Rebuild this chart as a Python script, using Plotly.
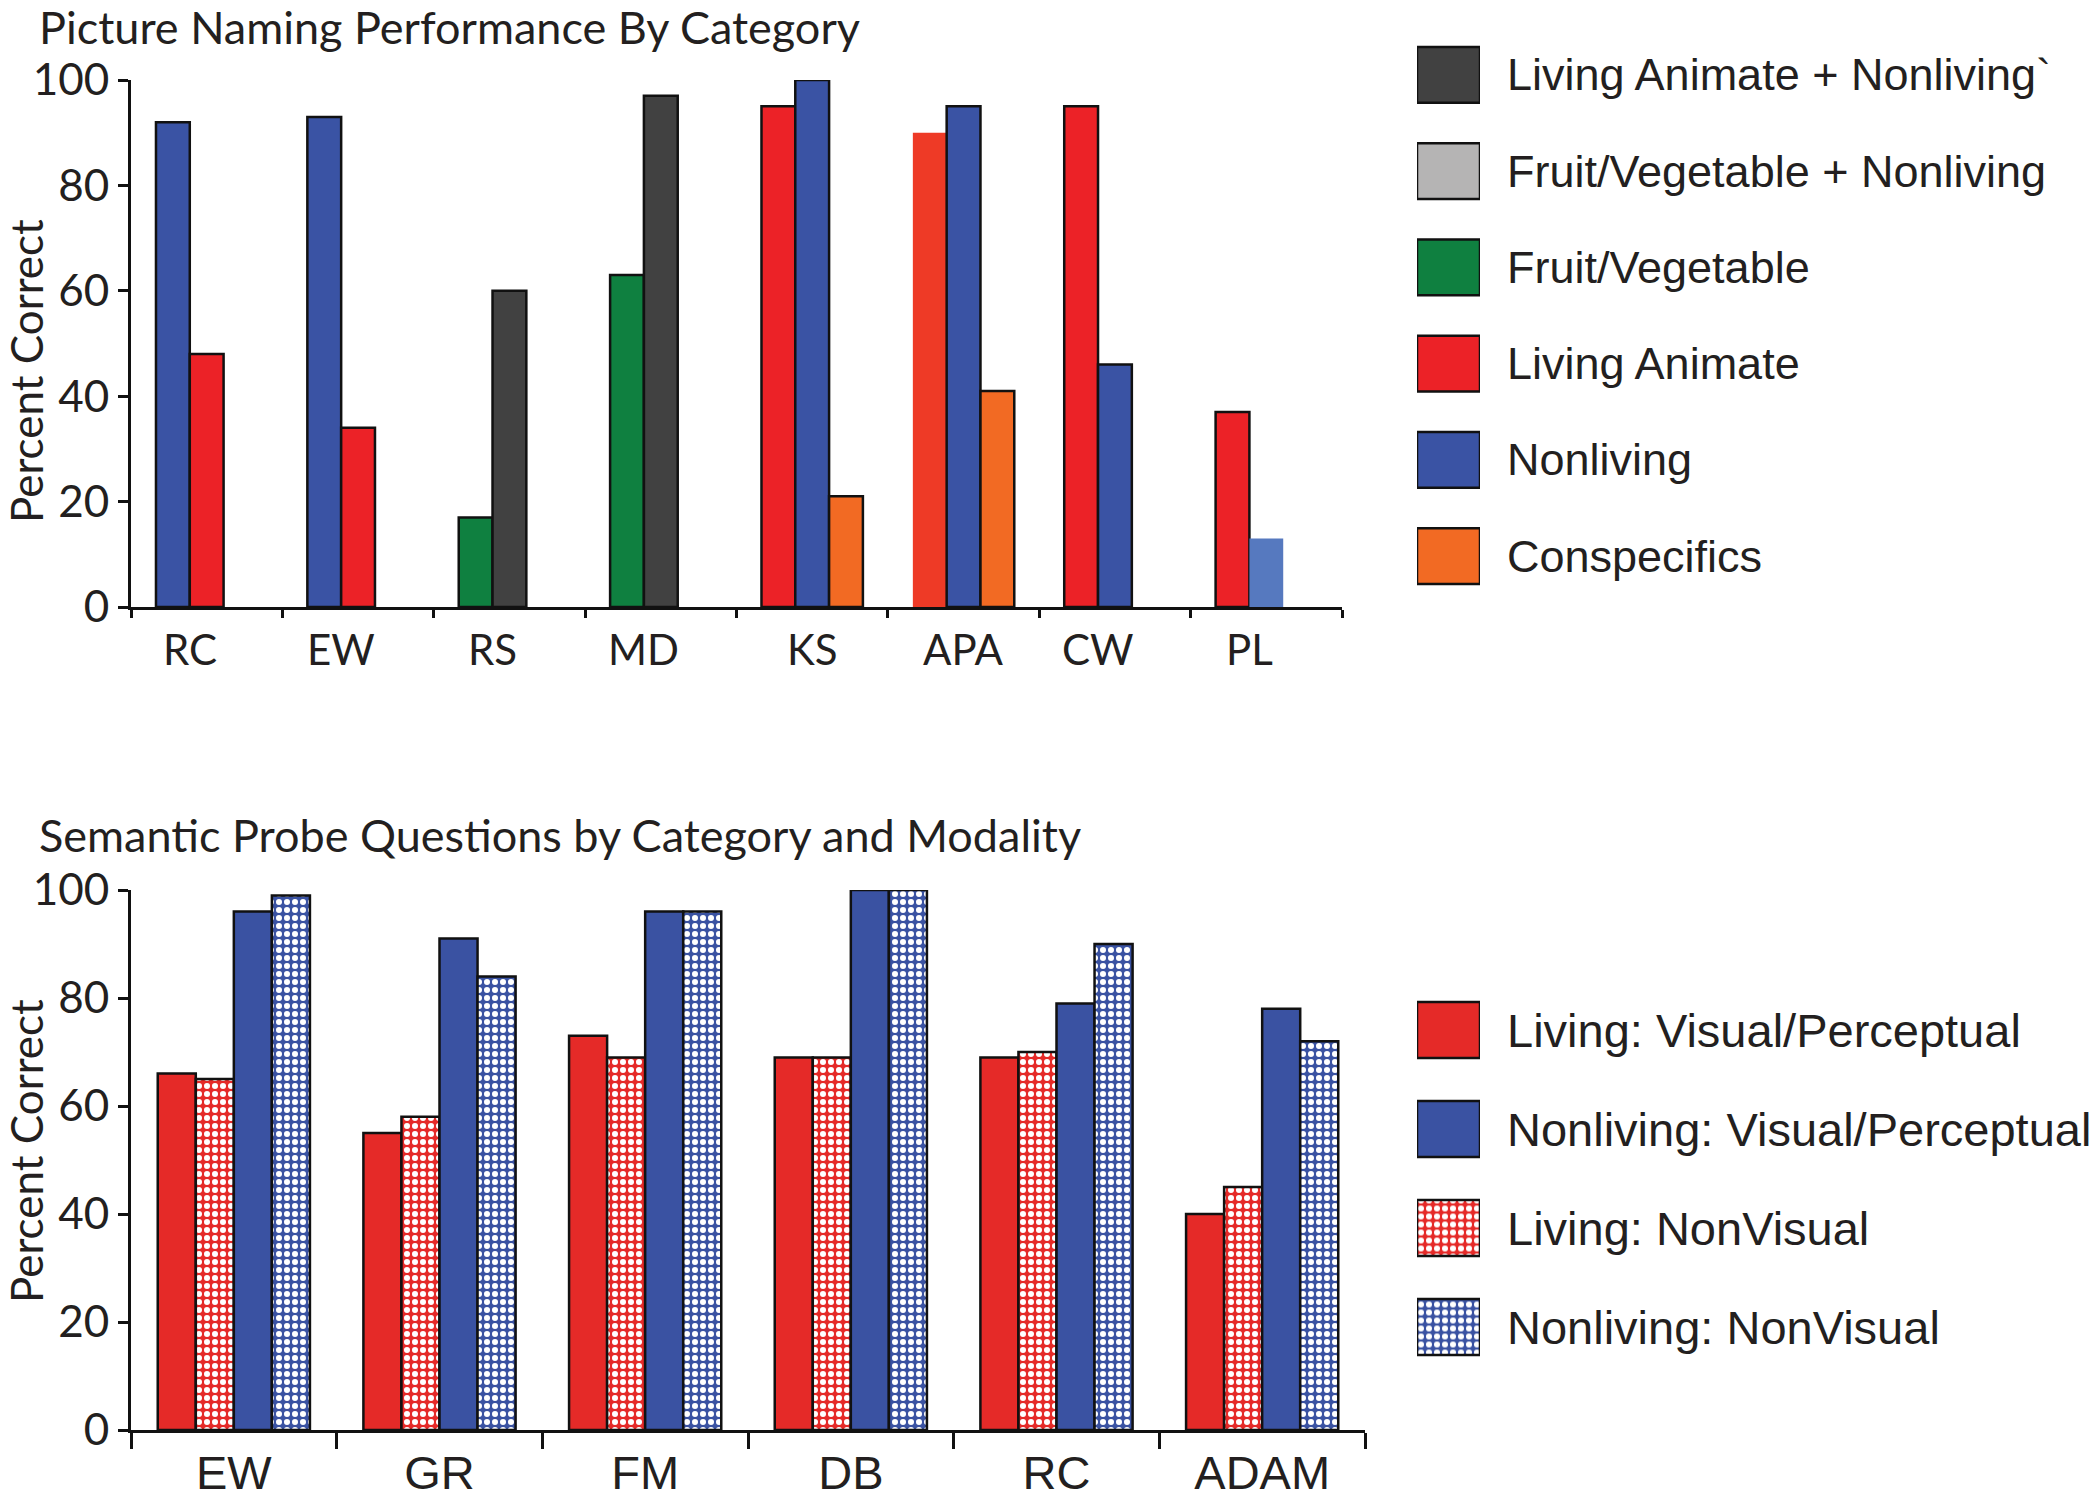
import plotly.graph_objects as go

W, H = 2100, 1501

# ---------------- data: picture naming (top) ----------------
naming_categories = ["RC", "EW", "RS", "MD", "KS", "APA", "CW", "PL"]
living_animate_plus_nonliving = [None, None, 60, 97, None, None, None, None]
fruitveg_plus_nonliving = [None, None, None, None, None, None, None, None]
fruit_vegetable = [None, None, 17, 63, None, None, None, None]
living_animate = [48, 34, None, None, 95, 90, 95, 37]
nonliving = [92, 93, None, None, 100, 95, 46, 13]
conspecifics = [None, None, None, None, 21, 41, None, None]

naming_labels = ["Living Animate + Nonliving`", "Fruit/Vegetable + Nonliving",
                 "Fruit/Vegetable", "Living Animate", "Nonliving", "Conspecifics"]

# ---------------- data: semantic probe (bottom) ----------------
probe_categories = ["EW", "GR", "FM", "DB", "RC", "ADAM"]
living_visual = [66, 55, 73, 69, 69, 40]
living_nonvisual = [65, 58, 69, 69, 70, 45]
nonliving_visual = [96, 91, 96, 100, 79, 78]
nonliving_nonvisual = [99, 84, 96, 100, 90, 72]

probe_labels = ["Living: Visual/Perceptual", "Nonliving: Visual/Perceptual",
                "Living: NonVisual", "Nonliving: NonVisual"]

y_ticks = [0, 20, 40, 60, 80, 100]

# ---------------- styles ----------------
INK = "#231f20"
MYRIAD = "Lato, 'Open Sans', sans-serif"
HELV = "'Liberation Sans', Arial, sans-serif"
C_DGRAY, C_LGRAY, C_GREEN = "#414141", "#b5b4b4", "#0f8040"
C_RED, C_BLUE, C_ORANGE = "#ec2227", "#3a53a4", "#f26a23"
C_RED2, C_BLUE2 = "#e52a28", "#3a52a2"

naming_series = {
    "Living Animate + Nonliving`": (living_animate_plus_nonliving, C_DGRAY),
    "Fruit/Vegetable + Nonliving": (fruitveg_plus_nonliving, C_LGRAY),
    "Fruit/Vegetable": (fruit_vegetable, C_GREEN),
    "Living Animate": (living_animate, C_RED),
    "Nonliving": (nonliving, C_BLUE),
    "Conspecifics": (conspecifics, C_ORANGE),
}
# order of the bars inside each group (drawing style)
bar_order = {
    "RC": ["Nonliving", "Living Animate"],
    "EW": ["Nonliving", "Living Animate"],
    "RS": ["Fruit/Vegetable", "Living Animate + Nonliving`"],
    "MD": ["Fruit/Vegetable", "Living Animate + Nonliving`"],
    "KS": ["Living Animate", "Nonliving", "Conspecifics"],
    "APA": ["Living Animate", "Nonliving", "Conspecifics"],
    "CW": ["Living Animate", "Nonliving"],
    "PL": ["Living Animate", "Nonliving"],
}
# bars drawn without outline and with a slightly different tint
special = {("APA", "Living Animate"): "#ee3a26", ("PL", "Nonliving"): "#5679bf"}


def py(p):
    return (H - p) / H


def px(p):
    return p / W


# plot geometry (pixels)
TOP_X0, TOP_X1, TOP_Y100, TOP_Y0 = 131, 1342, 80, 607
BOT_X0, BOT_X1, BOT_Y100, BOT_Y0 = 131, 1365, 890, 1430

fig = go.Figure()

# ---- top chart: three bar slots per category ----
n_slots = 3
group_frac = 0.67
bw = group_frac / n_slots
for k in range(n_slots):
    ys, cols, lws = [], [], []
    for i, cat in enumerate(naming_categories):
        order = bar_order[cat]
        if k < len(order):
            name = order[k]
            vals, col = naming_series[name]
            ys.append(vals[i])
            if (cat, name) in special:
                cols.append(special[(cat, name)])
                lws.append(0)
            else:
                cols.append(col)
                lws.append(2.5)
        else:
            ys.append(None)
            cols.append("white")
            lws.append(0)
    fig.add_trace(go.Bar(
        x=naming_categories, y=ys, width=bw, offset=-group_frac / 2 + k * bw,
        marker=dict(color=cols, line=dict(color="#111111", width=lws)),
        xaxis="x", yaxis="y", showlegend=False, cliponaxis=False,
    ))

# ---- bottom chart ----
probe_series = [
    ("Living: Visual/Perceptual", living_visual, C_RED2, ""),
    ("Living: NonVisual", living_nonvisual, C_RED2, "."),
    ("Nonliving: Visual/Perceptual", nonliving_visual, C_BLUE2, ""),
    ("Nonliving: NonVisual", nonliving_nonvisual, C_BLUE2, "."),
]
pattern_style = {}
for name, vals, col, shp in probe_series:
    if shp:
        pat = dict(shape=shp, fgcolor="white", bgcolor=col, size=8, solidity=0.45,
                   fillmode="replace")
    else:
        pat = dict(shape="")
    pattern_style[name] = (col, pat)
    fig.add_trace(go.Bar(
        x=probe_categories, y=vals, name=name,
        marker=dict(color=col, pattern=pat, line=dict(color="#111111", width=2.5)),
        xaxis="x2", yaxis="y2", showlegend=False, cliponaxis=False,
    ))

# ---- custom legends (large swatches) ----
top_idx = list(range(len(naming_labels)))
fig.add_trace(go.Bar(
    x=[1] * len(naming_labels), y=top_idx, base=0, orientation="h",
    width=0.58, offset=-0.29,
    marker=dict(color=[naming_series[n][1] for n in naming_labels],
                line=dict(color="#111111", width=2.5)),
    xaxis="x3", yaxis="y3", showlegend=False, hoverinfo="skip",
))
for j, name in enumerate(probe_labels):
    mcol, pat = pattern_style[name]
    fig.add_trace(go.Bar(
        x=[1], y=[j], base=0, orientation="h", width=0.566, offset=-0.283,
        marker=dict(color=mcol, pattern=pat, line=dict(color="#111111", width=2.5)),
        xaxis="x4", yaxis="y4", showlegend=False, hoverinfo="skip",
    ))

annotations = []
for j, name in enumerate(naming_labels):
    annotations.append(dict(text=name, x=px(1505), xref="paper", y=j, yref="y3",
                            xanchor="left", yanchor="middle", showarrow=False,
                            font=dict(family=HELV, size=45, color=INK)))
for j, name in enumerate(probe_labels):
    annotations.append(dict(text=name, x=px(1505), xref="paper", y=j, yref="y4",
                            xanchor="left", yanchor="middle", showarrow=False,
                            font=dict(family=HELV, size=47, color=INK)))

# top category labels, centred under the bars actually present
slot_px = (TOP_X1 - TOP_X0) / len(naming_categories)
bar_px = slot_px * bw
for cat in naming_categories:
    nb = len(bar_order[cat])
    annotations.append(dict(text=cat, x=cat, xref="x", y=py(649), yref="paper",
                            xshift=-(n_slots - nb) / 2 * bar_px,
                            xanchor="center", yanchor="middle", showarrow=False,
                            font=dict(family=MYRIAD, size=42, color=INK)))

# titles
annotations += [
    dict(text="Picture Naming Performance By Category", x=px(37), y=py(27),
         xref="paper", yref="paper", xanchor="left", yanchor="middle",
         showarrow=False, font=dict(family=MYRIAD, size=45, color=INK)),
    dict(text="Semantic Probe Questions by Category and Modality", x=px(37), y=py(835),
         xref="paper", yref="paper", xanchor="left", yanchor="middle",
         showarrow=False, font=dict(family=MYRIAD, size=45, color=INK)),
    dict(text="Percent Correct", x=px(26), y=py(371), textangle=-90,
         xref="paper", yref="paper", xanchor="center", yanchor="middle",
         showarrow=False, font=dict(family=MYRIAD, size=44, color=INK)),
    dict(text="Percent Correct", x=px(26), y=py(1151), textangle=-90,
         xref="paper", yref="paper", xanchor="center", yanchor="middle",
         showarrow=False, font=dict(family=MYRIAD, size=44, color=INK)),
]

axis_common = dict(showgrid=False, zeroline=False, showline=True, linecolor="#111111",
                   linewidth=3, ticks="outside", tickcolor="#111111", tickwidth=2.5,
                   automargin=False)

fig.update_layout(
    width=W, height=H, margin=dict(l=0, r=0, t=0, b=0, autoexpand=False),
    paper_bgcolor="white", plot_bgcolor="white",
    barmode="group", bargap=0.26, bargroupgap=0,
    showlegend=False,
    xaxis=dict(domain=[px(TOP_X0), px(TOP_X1)], anchor="y", type="category",
               range=[-0.5, len(naming_categories) - 0.5], tickson="boundaries",
               ticklen=8, showticklabels=False, **axis_common),
    yaxis=dict(domain=[py(TOP_Y0), py(TOP_Y100)], anchor="x", range=[0, 100],
               tickvals=y_ticks, ticklen=10,
               tickfont=dict(family=MYRIAD, size=44, color=INK), **axis_common),
    xaxis2=dict(domain=[px(BOT_X0), px(BOT_X1)], anchor="y2", type="category",
                range=[-0.5, len(probe_categories) - 0.5], tickson="boundaries",
                ticklen=16, ticklabelstandoff=0,
                tickfont=dict(family=HELV, size=47, color=INK),
                **axis_common),
    yaxis2=dict(domain=[py(BOT_Y0), py(BOT_Y100)], anchor="x2", range=[0, 100],
                tickvals=y_ticks, ticklen=10,
                tickfont=dict(family=MYRIAD, size=44, color=INK), **axis_common),
    xaxis3=dict(domain=[px(1417), px(1480)], anchor="y3", range=[0, 1], visible=False),
    yaxis3=dict(domain=[py(75 + 48.2 + 5 * 96.2), py(75 - 48.2)], anchor="x3",
                range=[len(naming_labels) - 0.5, -0.5], visible=False),
    xaxis4=dict(domain=[px(1417), px(1480)], anchor="y4", range=[0, 1], visible=False),
    yaxis4=dict(domain=[py(1030 + 49.5 + 3 * 99), py(1030 - 49.5)], anchor="x4",
                range=[len(probe_labels) - 0.5, -0.5], visible=False),
    annotations=annotations,
)

fig.write_html("out.html", config={"displayModeBar": False},
               post_script="document.body.style.margin='0px';")
